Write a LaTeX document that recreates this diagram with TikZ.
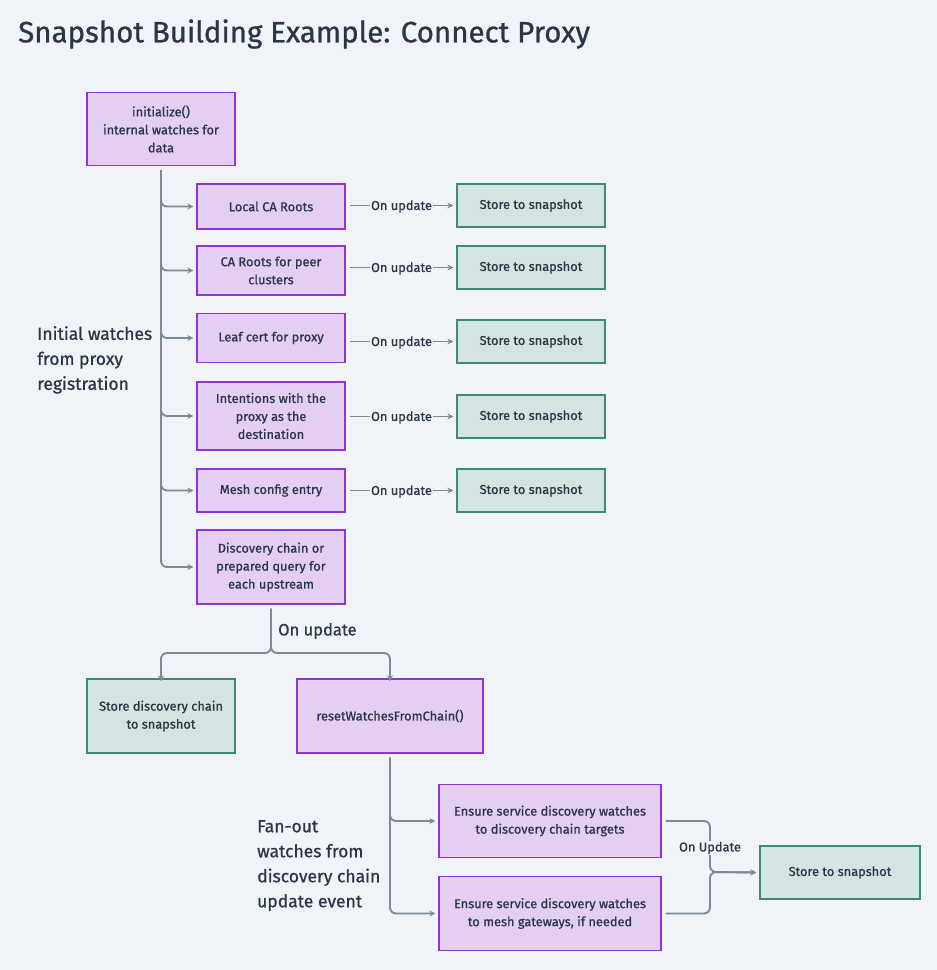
\documentclass[tikz,border=0pt]{standalone}
\usepackage{fontspec}
\setmainfont{Fira Sans}[FakeBold=0.8]
\usetikzlibrary{arrows.meta,positioning,calc}
\definecolor{bgc}{HTML}{F0F4F8}
\definecolor{pfill}{HTML}{E4CEF3}
\definecolor{pdraw}{HTML}{8F35D6}
\definecolor{gfill}{HTML}{D3E5E2}
\definecolor{gdraw}{HTML}{3D8A76}
\definecolor{connc}{HTML}{7C8996}
\definecolor{txtc}{HTML}{2A3545}
\tikzset{
  boxbase/.style={rectangle, line width=1.2pt, align=center, inner sep=2pt, text=txtc,
    font=\fontsize{12.8}{18}\selectfont},
  pbox/.style={boxbase, fill=pfill, draw=pdraw},
  gbox/.style={boxbase, fill=gfill, draw=gdraw},
  conn/.style={draw=connc, line width=1.9pt, -{Stealth[length=6pt,width=6pt]}},
  lbl/.style={fill=bgc, inner sep=1pt, text=txtc, font=\fontsize{12.8}{14}\selectfont},
  biglbl/.style={text=txtc, inner sep=0pt, align=left, font=\fontsize{17.5}{25}\selectfont},
}
\begin{document}
\begin{tikzpicture}[x=1pt,y=-1pt]
\fill[bgc] (0,0) rectangle (937,970);
\useasboundingbox (0,0) rectangle (937,970);

\node[anchor=west, text=txtc, inner sep=0pt, font=\fontsize{29.5}{34}\selectfont] (title) at (18,34) {Snapshot Building Example: Connect Proxy};

% left column boxes
\node[pbox, minimum width=148, minimum height=73] (init) at (161,129) {initialize()\\internal watches for\\data};
\node[pbox, minimum width=148, minimum height=45] (lca) at (271,206.5) {Local CA Roots};
\node[pbox, minimum width=148, minimum height=49] (car) at (271,270.5) {CA Roots for peer\\clusters};
\node[pbox, minimum width=148, minimum height=49] (leaf) at (271,338) {Leaf cert for proxy};
\node[pbox, minimum width=148, minimum height=68] (intn) at (271,416) {Intentions with the\\proxy as the\\destination};
\node[pbox, minimum width=148, minimum height=43] (mesh) at (271,490.5) {Mesh config entry};
\node[pbox, minimum width=148, minimum height=74] (disc) at (271,567) {Discovery chain or\\prepared query for\\each upstream};

% store boxes
\node[gbox, minimum width=148, minimum height=43] (s1) at (531,205.5) {Store to snapshot};
\node[gbox, minimum width=148, minimum height=43] (s2) at (531,267.5) {Store to snapshot};
\node[gbox, minimum width=148, minimum height=43] (s3) at (531,341.5) {Store to snapshot};
\node[gbox, minimum width=148, minimum height=43] (s4) at (531,416.5) {Store to snapshot};
\node[gbox, minimum width=148, minimum height=43] (s5) at (531,490.5) {Store to snapshot};

% lower part
\node[gbox, minimum width=148, minimum height=74] (sdc) at (161,716) {Store discovery chain\\to snapshot};
\node[pbox, minimum width=186, minimum height=74] (reset) at (390,716) {resetWatchesFromChain()};
\node[pbox, minimum width=222, minimum height=73] (e1) at (550,821) {Ensure service discovery watches\\to discovery chain targets};
\node[pbox, minimum width=222, minimum height=74] (e2) at (550,913.5) {Ensure service discovery watches\\to mesh gateways, if needed};
\node[gbox, minimum width=160, minimum height=53] (sf) at (840,872.5) {Store to snapshot};

% big labels
\node[biglbl, anchor=north west] (initlbl) at (37,326) {Initial watches\\from proxy\\registration};
\node[biglbl, anchor=north west] (fanlbl) at (257,820) {Fan-out\\watches from\\discovery chain\\update event};

% trunk from init
\foreach \b in {lca,car,leaf,intn,mesh,disc}{
  \draw[conn, rounded corners=6pt] ([yshift=-4pt]init.south) |- ([xshift=-3pt]\b.west);
}

% on update rows
\foreach \a/\s in {lca/s1,car/s2,leaf/s3,intn/s4,mesh/s5}{
  \draw[conn] ([xshift=4pt]\a.east |- \s.west) -- node[lbl, yshift=-1pt]{On update} ([xshift=-3pt]\s.west);
}

% discovery split
\coordinate (sp) at (271,653);
\draw[conn, rounded corners=6pt] ([yshift=-4pt]disc.south) |- (sdc.north |- sp) -- ([yshift=-3pt]sdc.north);
\draw[conn, rounded corners=6pt] ([yshift=-4pt]disc.south) |- (reset.north |- sp) -- ([yshift=-3pt]reset.north);
\node[anchor=west, text=txtc, inner sep=0pt, font=\fontsize{16.5}{18}\selectfont] (oul) at (278,631) {On update};

% reset fan-out
\draw[conn, rounded corners=6pt] ([yshift=-4pt]reset.south) |- ([xshift=-3pt]e1.west);
\draw[conn, rounded corners=6pt] ([yshift=-4pt]reset.south) |- ([xshift=-3pt]e2.west);

% ensure to final store
\coordinate (jn) at (710,872);
\draw[conn, rounded corners=6pt] ([xshift=4pt]e1.east) -| (jn) -- ([xshift=-3pt]sf.west);
\draw[conn, rounded corners=6pt] ([xshift=4pt]e2.east) -| (jn) -- ([xshift=-3pt]sf.west);
\node[lbl] (oU) at (710,848) {On Update};
\end{tikzpicture}
\end{document}
